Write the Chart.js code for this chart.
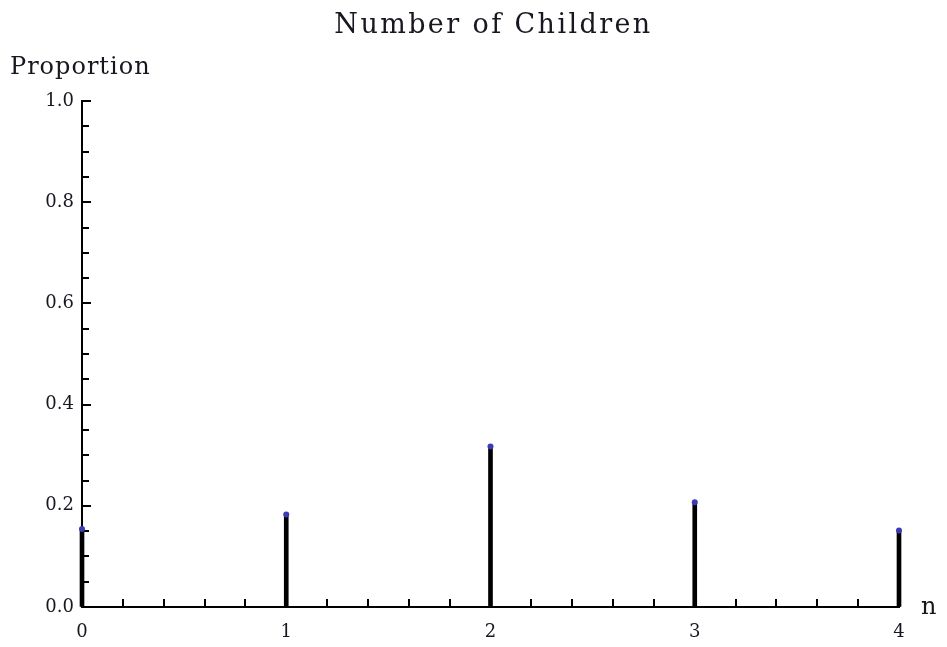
<!DOCTYPE html>
<html>
<head>
<meta charset="utf-8">
<script src="https://cdn.jsdelivr.net/npm/chart.js@4/dist/chart.umd.min.js"></script>
<style>
  html, body { margin: 0; padding: 0; background: #fff; }
  #wrap { width: 947px; height: 647px; }
</style>
</head>
<body>
<div id="wrap"><canvas id="c" width="947" height="647"></canvas></div>
<script>
// Number of children per family and the proportion of families with each count
const children = [0, 1, 2, 3, 4];
const proportion = [0.154, 0.183, 0.317, 0.207, 0.151];
const yTicks = [0.0, 0.2, 0.4, 0.6, 0.8, 1.0];
const xTicks = [0, 1, 2, 3, 4];
const chartTitle = 'Number of Children';
const yLabel = 'Proportion';
const xLabel = 'n';

const FONT = '"DejaVu Serif", "Liberation Serif", serif';
const INK = '#1a1620';

// Inward-facing major and minor tick marks plus the free-standing labels
const frame = {
  id: 'frame',
  beforeDatasetsDraw(chart) {
    const { ctx, scales: { x, y } } = chart;
    ctx.save();
    ctx.strokeStyle = '#000';
    ctx.lineWidth = 2;
    ctx.beginPath();
    for (let i = 0; i <= 20; i++) {
      const py = Math.round(y.getPixelForValue(i * 0.05));
      const len = (i % 4 === 0) ? 9 : 7;
      ctx.moveTo(x.left, py);
      ctx.lineTo(x.left + len, py);
    }
    for (let i = 0; i <= 20; i++) {
      const px = Math.round(x.getPixelForValue(i * 0.2));
      const len = (i % 5 === 0) ? 10 : 8;
      ctx.moveTo(px, y.bottom);
      ctx.lineTo(px, y.bottom - len);
    }
    ctx.stroke();
    ctx.restore();
  },
  afterDraw(chart) {
    const { ctx, chartArea } = chart;
    ctx.save();
    ctx.fillStyle = INK;
    ctx.textBaseline = 'alphabetic';

    ctx.font = '27px ' + FONT;
    ctx.letterSpacing = '2.4px';
    ctx.textAlign = 'center';
    ctx.fillText(chartTitle, (chartArea.left + chartArea.right) / 2 + 3, 33);

    ctx.font = '24px ' + FONT;
    ctx.letterSpacing = '1px';
    ctx.textAlign = 'left';
    ctx.fillText(yLabel, 10, 74);

    ctx.font = '24px ' + FONT;
    ctx.letterSpacing = '0px';
    ctx.fillText(xLabel, 921, 614);
    ctx.restore();
  }
};

new Chart(document.getElementById('c'), {
  type: 'bar',
  data: {
    datasets: [
      {
        type: 'scatter',
        data: children.map((n, i) => ({ x: n, y: proportion[i] })),
        backgroundColor: '#3b3bb4',
        borderColor: '#3b3bb4',
        pointRadius: 3,
        pointBorderWidth: 0,
        clip: false,
        order: 0
      },
      {
        type: 'bar',
        data: children.map((n, i) => ({ x: n, y: proportion[i] })),
        backgroundColor: '#000',
        borderWidth: 0,
        barThickness: 4,
        clip: false,
        order: 1
      }
    ]
  },
  options: {
    responsive: false,
    animation: false,
    events: [],
    layout: { padding: { left: 0, right: 48, top: 101, bottom: 0 } },
    plugins: { legend: { display: false }, tooltip: { enabled: false }, title: { display: false } },
    scales: {
      x: {
        type: 'linear',
        min: 0,
        max: 4,
        offset: false,
        afterBuildTicks(scale) { scale.ticks = xTicks.map(v => ({ value: v })); },
        afterFit(scale) { scale.height = 40; },
        grid: { display: true, color: 'rgba(0,0,0,0)', drawTicks: false, offset: false },
        border: { display: true, color: '#000', width: 2 },
        ticks: {
          padding: 15,
          color: INK,
          font: { family: FONT, size: 18 },
          maxRotation: 0,
          callback: v => String(v)
        }
      },
      y: {
        min: 0,
        max: 1,
        afterBuildTicks(scale) { scale.ticks = yTicks.map(v => ({ value: v })); },
        afterFit(scale) { scale.width = 82; },
        grid: { display: true, color: 'rgba(0,0,0,0)', drawTicks: false },
        border: { display: true, color: '#000', width: 2 },
        ticks: {
          padding: 8,
          color: INK,
          font: { family: FONT, size: 18 },
          callback: v => Number(v).toFixed(1)
        }
      }
    }
  },
  plugins: [frame]
});
</script>
</body>
</html>
